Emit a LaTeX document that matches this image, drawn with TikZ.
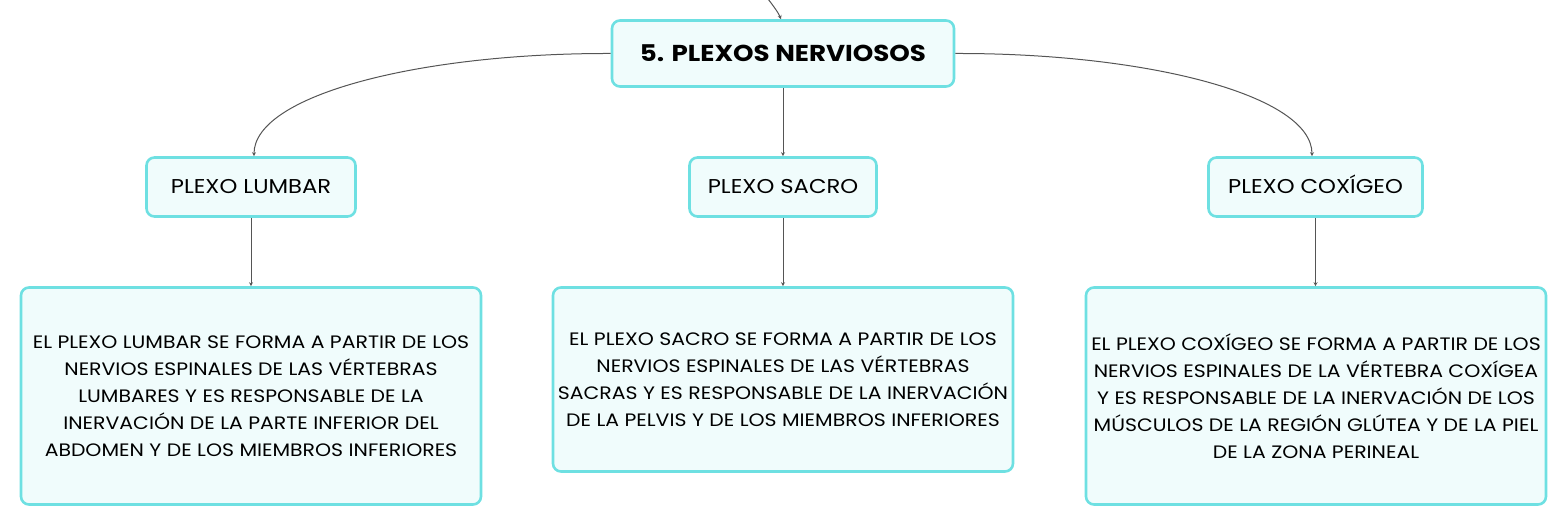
\documentclass[tikz,border=0pt]{standalone}
\usepackage{fontspec}
\setmainfont{Poppins}[FakeStretch=1.135]
\usetikzlibrary{arrows.meta}
\definecolor{bordc}{HTML}{6EE0E2}
\definecolor{fillc}{HTML}{F0FCFC}
\definecolor{linec}{HTML}{555555}
\tikzset{
  box/.style={draw=bordc, line width=2.6pt, fill=fillc, rounded corners=8pt, align=center, inner sep=0pt},
  rootbox/.style={box, minimum width=342pt, minimum height=66pt, text height=18.5pt, text depth=3pt, font=\fontsize{23}{26}\selectfont\bfseries},
  midbox/.style={box, minimum height=59pt, text height=17pt, text depth=3pt, font=\fontsize{20}{22}\selectfont},
  txtbox/.style={box, minimum width=460pt, font=\fontsize{18}{27}\selectfont},
  conn/.style={draw=linec, line width=1pt, -{Stealth[length=4pt,width=4pt]}},
}
\begin{document}
\begin{tikzpicture}[x=1pt,y=-1pt]
\useasboundingbox (0,0) rectangle (1567,526);
\node[rootbox] (root) at (783,53.5) {5. PLEXOS NERVIOSOS};
\node[midbox, minimum width=209pt] (lum) at (251,187) {PLEXO LUMBAR};
\node[midbox, minimum width=187pt] (sac) at (783,187) {PLEXO SACRO};
\node[midbox, minimum width=214pt] (cox) at (1315.5,187) {PLEXO COXÍGEO};
\node[txtbox, minimum height=217pt] (t1) at (251,396) {EL PLEXO LUMBAR SE FORMA A PARTIR DE LOS\\NERVIOS ESPINALES DE LAS VÉRTEBRAS\\LUMBARES Y ES RESPONSABLE DE LA\\INERVACIÓN DE LA PARTE INFERIOR DEL\\ABDOMEN Y DE LOS MIEMBROS INFERIORES};
\node[txtbox, minimum height=184pt] (t2) at (783,379.5) {EL PLEXO SACRO SE FORMA A PARTIR DE LOS\\NERVIOS ESPINALES DE LAS VÉRTEBRAS\\SACRAS Y ES RESPONSABLE DE LA INERVACIÓN\\DE LA PELVIS Y DE LOS MIEMBROS INFERIORES};
\node[txtbox, minimum height=217pt] (t3) at (1316,396) {EL PLEXO COXÍGEO SE FORMA A PARTIR DE LOS\\NERVIOS ESPINALES DE LA VÉRTEBRA COXÍGEA\\Y ES RESPONSABLE DE LA INERVACIÓN DE LOS\\MÚSCULOS DE LA REGIÓN GLÚTEA Y DE LA PIEL\\DE LA ZONA PERINEAL};
\coordinate (top) at (768,-1);
\draw[conn] (top) .. controls (775,8) and (779,14) .. (root.north -| 781,0);
\draw[conn] (root.west) .. controls (420,53) and (254,95) .. (lum.north -| 254,0);
\draw[conn] (root.east) .. controls (1146,53) and (1312,95) .. (cox.north -| 1312,0);
\draw[conn] (root.south) -- (sac.north);
\draw[conn] (lum.south) -- (t1.north);
\draw[conn] (sac.south) -- (t2.north);
\draw[conn] (cox.south) -- (t3.north -| cox.south);
\end{tikzpicture}
\end{document}
